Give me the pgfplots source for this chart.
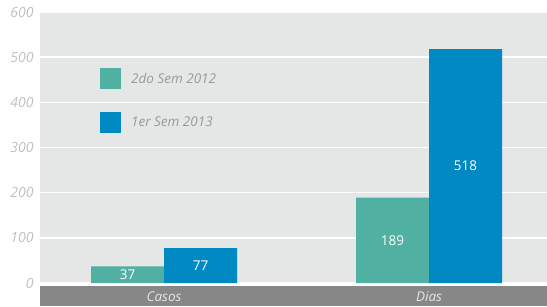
\documentclass[border=0pt]{standalone}
\usepackage{pgfplots}
\pgfplotsset{compat=1.18}
\usepackage{fontspec}
\setmainfont{Open Sans}
\definecolor{cteal}{HTML}{50B0A2}
\definecolor{cblue}{HTML}{0089C2}
\definecolor{cbg}{HTML}{E5E6E6}
\definecolor{cband}{HTML}{878787}
\definecolor{ctick}{HTML}{C0C0C0}
\definecolor{cleg}{HTML}{9A9A9A}
\definecolor{ccat}{HTML}{E6E6E6}
\begin{document}
\begin{tikzpicture}
\useasboundingbox (-40pt,-23pt) rectangle (507pt,283pt);
\fill[cband] (0pt,-3pt) rectangle (507pt,-23pt);
\begin{axis}[
  at={(0pt,0pt)}, anchor=south west,
  scale only axis, width=507pt, height=271pt,
  xmin=-0.468, xmax=1.445, ymin=0, ymax=600,
  axis background/.style={fill=cbg},
  axis line style={draw=none},
  major tick length=0pt,
  ytick={0,100,...,600},
  ymajorgrids, grid style={white, line width=1.6pt},
  xtick={0,1}, xticklabels={Casos,Dias},
  xticklabel style={anchor=center, yshift=-14pt, font=\fontsize{13.5}{15}\selectfont\itshape, text=ccat},
  yticklabel style={font=\fontsize{14}{16}\selectfont\itshape, text=ctick, xshift=-3pt},
  /pgf/number format/assume math mode=true,
  ybar=0pt, bar width=73pt,
  nodes near coords,
  visualization depends on=rawy\as\rawy,
  every node near coord/.append style={anchor=center, text=white, font=\fontsize{13.5}{15}\selectfont, yshift={-\rawy*0.22583pt}},
  legend style={draw=none, fill=none, at={(60pt,215pt)}, anchor=north west, inner sep=0pt, row sep=23pt,
    font=\fontsize{13.5}{15}\selectfont\itshape, text=cleg, cells={anchor=west}},
  legend image code/.code={\fill[#1] (0pt,-10.5pt) rectangle (21pt,10.5pt); \path (29pt,0pt);},
]
\addplot[fill=cteal, draw=none] coordinates {(0,37) (1,189)};
\addplot[fill=cblue, draw=none] coordinates {(0,77) (1,518)};
\legend{2do Sem 2012, 1er Sem 2013}
\end{axis}
\end{tikzpicture}
\end{document}
